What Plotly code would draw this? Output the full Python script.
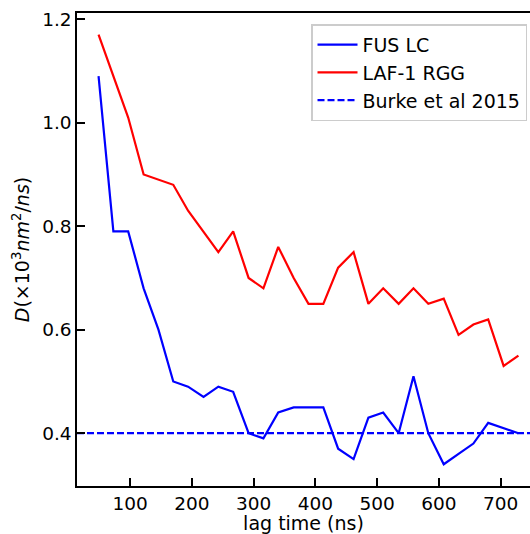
import plotly.graph_objects as go

# Data
lag_time = [49, 73, 97, 122, 146, 170, 194, 219, 243, 267, 292, 316, 340, 365, 389,
            413, 437, 462, 486, 510, 535, 559, 583, 608, 632, 656, 680, 705, 729]
fus_lc = [1.09, 0.79, 0.79, 0.68, 0.60, 0.50, 0.49, 0.47, 0.49, 0.48, 0.40, 0.39, 0.44, 0.45, 0.45,
          0.45, 0.37, 0.35, 0.43, 0.44, 0.40, 0.51, 0.40, 0.34, 0.36, 0.38, 0.42, 0.41, 0.40]
laf1_rgg = [1.17, 1.09, 1.01, 0.90, 0.89, 0.88, 0.83, 0.79, 0.75, 0.79, 0.70, 0.68, 0.76, 0.70, 0.65,
            0.65, 0.72, 0.75, 0.65, 0.68, 0.65, 0.68, 0.65, 0.66, 0.59, 0.61, 0.62, 0.53, 0.55]
burke_value = 0.4
x_ticks = [100, 200, 300, 400, 500, 600, 700]
y_ticks = [0.4, 0.6, 0.8, 1.0, 1.2]

x_range = [14.1, 747.7]
y_range = [0.298, 1.212]

FONT = "DejaVu Sans"

fig = go.Figure()
fig.add_trace(go.Scatter(x=lag_time, y=fus_lc, mode="lines", name="FUS LC",
                         legendgroup="a", line=dict(color="#0000ff", width=2.2)))
fig.add_trace(go.Scatter(x=lag_time, y=laf1_rgg, mode="lines", name="LAF-1 RGG",
                         legendgroup="b", line=dict(color="#ff0000", width=2.2)))
fig.add_trace(go.Scatter(x=x_range, y=[burke_value, burke_value], mode="lines",
                         name="Burke et al 2015", legendgroup="c",
                         line=dict(color="#0000ff", width=2.2, dash="7px,3px")))

fig.update_layout(
    width=530, height=534,
    margin=dict(l=77, r=0, t=13, b=48),
    paper_bgcolor="white", plot_bgcolor="white",
    font=dict(family=FONT, size=19, color="black"),
    showlegend=True,
    legend=dict(x=0.9934, y=0.976, xanchor="right", yanchor="top",
                bordercolor="#cccccc", borderwidth=1.5, bgcolor="white",
                font=dict(family=FONT, size=19), tracegroupgap=0, itemwidth=40),
    xaxis=dict(range=x_range, tickvals=x_ticks, ticks="inside", ticklen=8, tickwidth=1.5,
               tickcolor="black", showline=True, linecolor="black", linewidth=1.5,
               mirror=True, showgrid=False, zeroline=False,
               tickfont=dict(size=18.5),
               title=dict(text="lag time (ns)", font=dict(size=19), standoff=6)),
    yaxis=dict(range=y_range, tickvals=y_ticks, tickformat=".1f", ticks="inside", ticklen=8,
               tickwidth=1.5, tickcolor="black", showline=True, linecolor="black",
               linewidth=1.5, mirror=False, showgrid=False, zeroline=False,
               tickfont=dict(size=18.5),
               title=dict(text="<i>D</i>(×10<sup>3</sup><i>nm</i><sup>2</sup>/<i>ns</i>)",
                          font=dict(size=19), standoff=7)),
)

fig.write_html("out.html")
